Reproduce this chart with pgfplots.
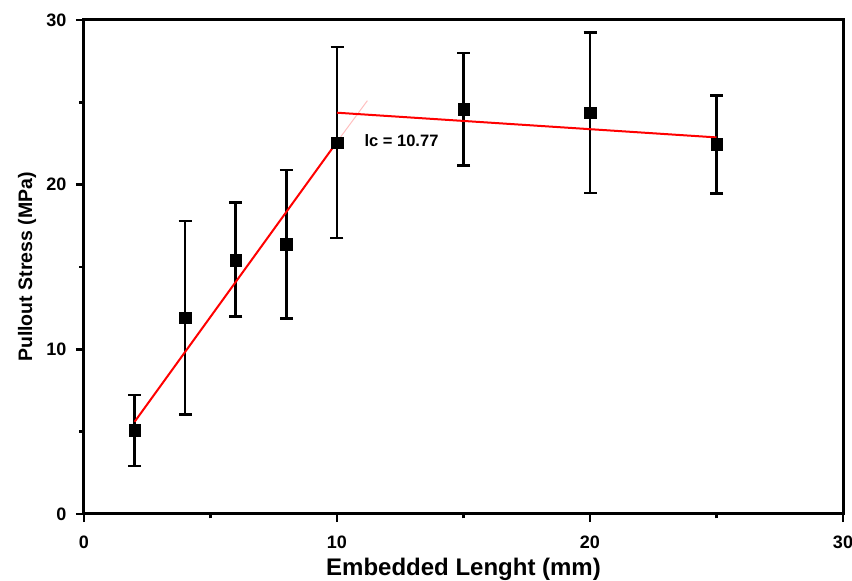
\documentclass[border=0pt]{standalone}
\usepackage{pgfplots}
\pgfplotsset{compat=1.18}
\usepackage{fontspec}
\setmainfont{Liberation Sans}
\definecolor{fitred}{HTML}{FF0000}

\begin{document}
\begin{tikzpicture}
\begin{axis}[
    width=759pt, height=494pt, scale only axis,
    xmin=0, xmax=30, ymin=0, ymax=30,
    xtick={0,10,20,30}, ytick={0,10,20,30},
    minor xtick={5,15,25}, minor ytick={5,15,25},
    tick align=outside, tick pos=left,
    major tick length=8pt, minor tick length=4.5pt,
    every tick/.style={black, line width=2.4pt},
    axis line style={black, line width=3pt},
    /pgf/number format/assume math mode=true,
    ticklabel style={font=\fontsize{18}{20}\selectfont\bfseries},
    xticklabel style={yshift=-10pt},
    yticklabel style={xshift=-6pt},
    xlabel={Embedded Lenght (mm)},
    ylabel={Pullout Stress (MPa)},
    xlabel style={font=\fontsize{24}{26}\selectfont\bfseries,
                  at={(axis description cs:0.5,-0.1255)}, anchor=base},
    ylabel style={font=\fontsize{19.5}{22}\selectfont\bfseries,
                  at={(axis description cs:-0.075,0.5)}, anchor=center},
]

% measured points with standard deviation
\addplot[black, only marks, mark=square*, mark size=5.8pt,
         error bars/.cd, y dir=both, y explicit,
         error bar style={line width=2.6pt},
         error mark options={rotate=90, mark size=6.5pt, /tikz/line width=2.6pt}]
  table[x=len, y=stress, y error plus=up, y error minus=dn] {
  len  stress  up    dn
  2    5.10    2.13  2.19
  4    11.92   5.88  5.87
  6    15.42   3.51  3.44
  8    16.37   4.52  4.49
  10   22.55   5.80  5.79
  15   24.60   3.40  3.45
  20   24.37   4.88  4.87
  25   22.45   2.95  2.98
  };

% bilinear fit
\addplot[red!25, line width=1pt] coordinates {(10,22.6) (11.2,25.1)};
\addplot[fitred, line width=2pt] coordinates {(2,5.6) (10,22.6)};
\addplot[fitred, line width=2pt] coordinates {(10,24.37) (25,22.87)};

\node[font=\fontsize{16.5}{19}\selectfont\bfseries] at (axis cs:12.55,22.7) {lc = 10.77};
\end{axis}
\pgfresetboundingbox
\useasboundingbox ([shift={(-84pt,-67pt)}]current axis.south west)
  rectangle ([shift={(9pt,20pt)}]current axis.north east);
\end{tikzpicture}
\end{document}
